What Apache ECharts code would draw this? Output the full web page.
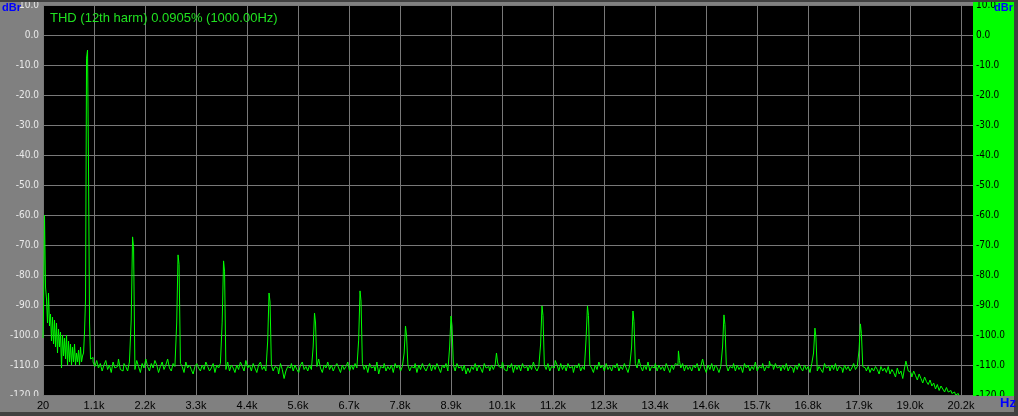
<!DOCTYPE html>
<html><head><meta charset="utf-8">
<script src="https://cdn.jsdelivr.net/npm/echarts@6/dist/echarts.min.js"></script>
<style>html,body{margin:0;padding:0;background:#808080;overflow:hidden}#c{width:1018px;height:416px}</style>
</head><body><div id="c"></div>
<script>
const titleText = 'THD (12th harm) 0.0905% (1000.00Hz)';
const xTickLabels = ['20','1.1k','2.2k','3.3k','4.4k','5.6k','6.7k','7.8k','8.9k','10.1k','11.2k','12.3k','13.4k','14.6k','15.7k','16.8k','17.9k','19.0k','20.2k'];
const xMin = 20, xMax = 20464, xStep = 1121.1;
const yMin = -120, yMax = 10, yStep = 10;

// low-frequency region (Hz / dBr)
const lowFreqs = [20,42,64,86,108,130,152,174,196,218,240,262,284,306,328,350,372,394,416,438,460,482,504,526,548,570,592,614,636,658,680,702,724,746,768,790,812,834,856,878,900,922,944,966];
const lowValues = [-101,-92,-60,-84,-88,-96,-86,-97,-93,-102,-94,-103,-95,-104,-96,-106,-98,-104,-99,-111,-100,-107,-101,-108,-100,-110,-102,-109,-103,-110,-104,-109,-103,-110,-106,-109,-105,-110,-104,-109,-107,-106,-99,-88];

// fundamental bins
const fundFreqs = [988,1010,1032,1054,1076];
const fundValues = [-7.7,-5,-45,-96,-108];

// harmonics: left bin, peak bin, right bin
const harmFreqs = [2000,3000,4000,5000,6000,7000,8000,9000,10000,11000,12000,13000,14000,15000,16000,17000,18000,19000];
const harmLeft  = [-95,-96,-95.7,-102,-104,-101.7,-106,-104,-110,-103,-101,-104,-110,-104,-111,-106,-105,-111];
const harmPeak  = [-67.3,-73.3,-75.3,-86,-92.7,-85.3,-97,-93.7,-106,-90.3,-90.3,-92,-105.3,-93.3,-108.7,-97.7,-96.3,-108.7];
const harmRight = [-70.5,-76.5,-78.7,-89,-96,-88.7,-100,-97,-109,-93.5,-93.5,-95.5,-108.5,-96.5,-110,-100.7,-99.5,-110];

// noise floor, bins every 40 Hz from 1100 Hz
const floorStart = 1100, floorStep = 40;
const floorValues = [
-107.5,-109,-110.5,-108.5,-111,-109.5,-112,-110,-108.5,-111.5,
-110,-112.5,-109,-111,-110.5,-108,-111.5,-112,-109.5,-110.5,
-112,-109,-111,-110,-111.5,-108.5,-110.5,-112.5,-109.5,-111,
-108,-110.5,-112,-109.5,-111,-108.5,-110,-112.5,-110.5,-109,
-111.5,-110,-108,-111,-112,-109.5,-110.5,-112,-111,-109.5,
-110.5,-112.5,-109,-111,-110,-111.5,-113,-110.5,-109.5,-111,
-112,-110,-111.5,-109,-110.5,-112,-111,-109.5,-112.5,-110,
-111,-109.5,-112,-110.5,-111.5,-109,-112,-110,-111,-112.5,
-110,-111.5,-109,-110.5,-112,-108.5,-111,-110,-112,-109.5,
-111,-112.5,-110,-109,-111.5,-110.5,-112,-109.5,-111,-110,
-112,-110.5,-111,-113,-109.5,-111.5,-114.5,-112,-110.5,-111,
-109.5,-112,-110,-111.5,-112.5,-110,-109,-111.5,-110.5,-112,
-110,-111.5,-109.5,-112,-110.5,-108,-111,-112.5,-110,-111,
-109,-111.5,-110,-112,-110.5,-109.5,-111,-112.5,-110,-111.5,
-110.5,-109,-112,-110,-111.5,-109.5,-111,-112,-110.5,-109.5,
-111.5,-110,-112.5,-109.5,-111,-110.5,-112,-109,-113,-110.5,
-111,-109.5,-112,-110.5,-111.5,-110,-112.5,-109.5,-111,-110,
-112,-110.5,-109,-111.5,-110,-112,-110.5,-111,-109.5,-112.5,
-110,-111.5,-109.5,-111,-112,-110.5,-109.5,-112,-110,-111.5,
-109.5,-111,-112.5,-110,-111,-109.5,-112,-110.5,-111.5,-110,
-112,-109.5,-111,-110.5,-112,-110,-113,-111,-112.5,-110.5,
-111.5,-109.5,-112,-110,-111,-112.5,-109.5,-111,-110.5,-112,
-110,-111.5,-109.5,-112,-110.5,-111,-109,-111.5,-112,-110,
-111,-109.5,-112.5,-110,-111.5,-110,-112,-109.5,-111,-110.5,
-112,-110,-111.5,-109,-111,-112,-110.5,-108.5,-111,-110,
-111.5,-109.5,-112,-110.5,-111,-108.5,-110,-112,-109.5,-111.5,
-110,-112,-109.5,-111,-110.5,-112.5,-110,-111,-109.5,-112,
-110.5,-111.5,-109.5,-112,-110,-111,-112.5,-110,-111.5,-109,
-111,-110,-112,-109.5,-111.5,-110.5,-112,-110,-111,-109.5,
-112,-110.5,-111.5,-109.5,-111,-112.5,-110,-111.5,-110,-109.5,
-111,-108,-110.5,-112,-110,-111.5,-109,-112,-110.5,-111,
-109.5,-112,-110,-111.5,-110.5,-112,-109.5,-111,-112.5,-110,
-111.5,-109.5,-112,-110.5,-111,-109.5,-112,-110,-111.5,-110.5,
-112,-110,-111,-109.5,-112,-110.5,-108,-111,-112.5,-110,
-111.5,-109.5,-112,-110,-111,-112.5,-110.5,-109.5,-111.5,-110,
-112,-110.5,-111,-109.5,-112,-110,-111.5,-110.5,-112.5,-109.5,
-111,-110,-112,-110.5,-111.5,-109,-112,-110.5,-111,-109.5,
-112,-110.5,-111,-112.5,-110,-111.5,-109.5,-111,-110.5,-112,
-110,-111.5,-109.5,-112,-110.5,-111,-112.5,-110,-111.5,-109.5,
-111,-112,-110,-111.5,-110.5,-112.5,-109.5,-111,-110,-112,
-110.5,-111.5,-112.5,-109.5,-111,-110.5,-112,-110,-111.5,-109.5,
-112,-110.5,-111,-112.5,-110,-111.5,-110.5,-112,-111,-109.5,
-111.5,-110.5,-112,-112.5,-110.5,-111,-112,-110.5,-112.5,-111,
-112,-110.5,-111.5,-113,-110.5,-112,-111,-112.5,-110.5,-113,
-111.5,-112.5,-114,-111,-113,-112,-114.5,-111.5,-113,-112,
-112.5,-114,-112,-113.5,-115,-113,-114.5,-116,-114,-115.5,
-116.5,-115,-117,-116,-118,-116.5,-118.5,-117,-118,-119,
-117.5,-119,-118.5,-119.5,-119,-120,-119.5,-120.5,-121,-121.5
];

// build trace points
const pts = [];
lowFreqs.forEach((f, i) => pts.push([f, lowValues[i]]));
fundFreqs.forEach((f, i) => pts.push([f, fundValues[i]]));
floorValues.forEach((v, i) => {
  const f = floorStart + i * floorStep;
  if (harmFreqs.some(h => Math.abs(f - h) < 30)) return;
  pts.push([f, v]);
});
harmFreqs.forEach((h, i) => {
  pts.push([h - 22, harmLeft[i]]);
  pts.push([h, harmPeak[i]]);
  pts.push([h + 22, harmRight[i]]);
});
pts.sort((a, b) => a[0] - b[0]);

const narrow = "'Liberation Sans Narrow','DejaVu Sans Condensed','Liberation Sans',Arial,sans-serif";
const sans = "'Liberation Sans',Arial,sans-serif";

function xLabel(v) {
  const i = Math.round((v - xMin) / xStep);
  if (Math.abs(v - (xMin + i * xStep)) < 1 && i >= 0 && i < xTickLabels.length) return xTickLabels[i];
  return '';
}

const chart = echarts.init(document.getElementById('c'), null, {renderer: 'canvas'});
chart.setOption({
  animation: false,
  backgroundColor: '#808080',
  title: {
    text: titleText, left: 50, top: 12, padding: 0,
    textStyle: {color: '#20e020', fontSize: 13, fontWeight: 'normal', fontFamily: sans}
  },
  grid: {
    left: 43, right: 45, top: 5, bottom: 21,
    show: true, backgroundColor: '#000000', borderWidth: 0,
    containLabel: false, outerBoundsMode: 'none'
  },
  xAxis: [
    {
      type: 'value', min: xMin, max: xMax, interval: xStep, z: 0,
      axisLine: {show: false}, axisTick: {show: false}, axisLabel: {show: false},
      splitLine: {show: true, showMaxLine: false, lineStyle: {color: '#787878', width: 1}}
    },
    {
      type: 'value', min: xMin, max: xMax, interval: xStep, z: 4, position: 'bottom',
      axisLine: {show: false}, axisTick: {show: false}, splitLine: {show: false},
      axisLabel: {show: true, interval: 0, margin: 5, color: '#000000', fontSize: 11, fontFamily: sans,
        formatter: xLabel, showMinLabel: true, showMaxLabel: true}
    }
  ],
  yAxis: [
    {
      type: 'value', min: yMin, max: yMax, interval: yStep, z: 1, position: 'left',
      axisLine: {show: false}, axisTick: {show: false},
      axisLabel: {color: '#e8e8e8', fontSize: 10, fontFamily: narrow, margin: 4,
        formatter: v => v.toFixed(1)},
      splitLine: {show: true, lineStyle: {color: '#787878', width: 1}}
    },
    {
      type: 'value', min: yMin, max: yMax, interval: yStep, z: 1, position: 'right',
      axisLine: {show: false}, axisTick: {show: false}, splitLine: {show: false},
      axisLabel: {color: '#000000', fontSize: 10, fontFamily: narrow, margin: 3,
        formatter: v => v.toFixed(1)}
    }
  ],
  graphic: [
    {type: 'rect', z: 0, silent: true, shape: {x: 973, y: 2, width: 41, height: 394}, style: {fill: '#00ff00'}},
    {type: 'rect', z: 3, silent: true, shape: {x: 0, y: 396, width: 1018, height: 16}, style: {fill: '#808080'}},
    {type: 'rect', z: 3, silent: true, shape: {x: 0, y: 412, width: 1018, height: 4}, style: {fill: '#404040'}},
    {type: 'rect', z: 3, silent: true, shape: {x: 0, y: 0, width: 1018, height: 2}, style: {fill: '#404040'}},
    {type: 'rect', z: 3, silent: true, shape: {x: 1014, y: 0, width: 4, height: 416}, style: {fill: '#404040'}},
    {type: 'text', z: 5, silent: true, x: 2, y: 2, style: {text: 'dBr', fill: '#0000ff', font: "bold 11px " + sans}},
    {type: 'text', z: 5, silent: true, x: 994, y: 2, style: {text: 'dBr', fill: '#0000ff', font: "bold 11px " + sans}},
    {type: 'text', z: 5, silent: true, x: 1000, y: 397, style: {text: 'Hz', fill: '#0000ff', font: "bold 13px " + sans}}
  ],
  series: [{
    type: 'line', xAxisIndex: 0, yAxisIndex: 0, z: 2,
    data: pts, showSymbol: false, symbol: 'none', step: 'middle', clip: true,
    lineStyle: {color: '#00ff00', width: 1}, silent: true
  }]
});
</script>
</body></html>
